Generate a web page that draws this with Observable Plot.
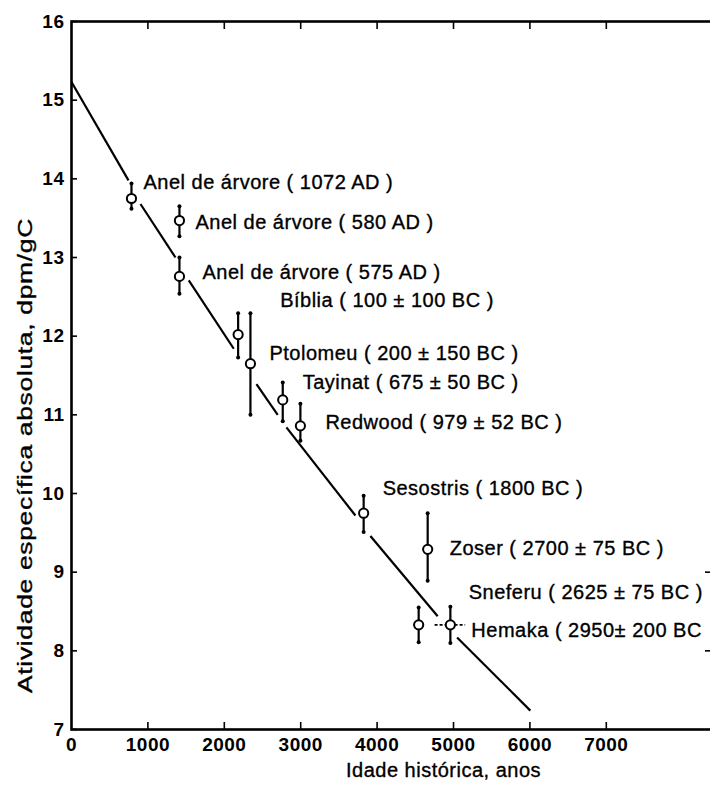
<!DOCTYPE html>
<html>
<head>
<meta charset="utf-8">
<script src="https://cdn.jsdelivr.net/npm/d3@7"></script>
<script src="https://cdn.jsdelivr.net/npm/@observablehq/plot@0.6"></script>
<style>
  html, body { margin: 0; padding: 0; background: #fff; overflow: hidden; }
  #chart svg { display: block; }
  #chart svg text { letter-spacing: 0.5px; }
</style>
</head>
<body>
<div id="chart"></div>
<script>
// Radiocarbon activity of dated samples against their historical age
const sampleLabels = [
  "Anel de árvore ( 1072 AD )", "Anel de árvore ( 580 AD )", "Anel de árvore ( 575 AD )",
  "Bíblia ( 100 ± 100 BC )", "Ptolomeu ( 200 ± 150 BC )", "Tayinat ( 675 ± 50 BC )",
  "Redwood ( 979 ± 52 BC )", "Sesostris ( 1800 BC )", "Zoser ( 2700 ± 75 BC )",
  "Sneferu ( 2625 ± 75 BC )", "Hemaka ( 2950± 200 BC"];
const ages = [785, 1413, 1413, 2181, 2342, 2765, 2996, 3824, 4662, 4544, 4959];
const activity = [13.75, 13.47, 12.76, 12.02, 11.65, 11.19, 10.86, 9.75, 9.29, 8.33, 8.33];
const activityLow = [13.62, 13.27, 12.54, 11.73, 11.00, 10.92, 10.67, 9.51, 8.89, 8.11, 8.10];
const activityHigh = [13.94, 13.65, 13.00, 12.29, 12.29, 11.41, 11.14, 9.97, 9.75, 8.55, 8.56];
const ageError = [0, 0, 0, 0, 0, 0, 0, 0, 0, 0, 200];

// decay curve, drawn as broken pieces that stop short of the samples
const curveAge = [[0, 746], [903, 1361], [1535, 2124], [2421, 2699], [2813, 3716], [3912, 4793], [5047, 6006]];
const curveActivity = [[15.23, 13.98], [13.68, 13.00], [12.71, 11.84], [11.39, 11.00], [10.84, 9.72], [9.46, 8.44], [8.17, 7.24]];

const xTicks = [0, 1000, 2000, 3000, 4000, 5000, 6000, 7000];
const yTicks = [7, 8, 9, 10, 11, 12, 13, 14, 15, 16];
const rightTicks = [8, 9];
const xLabel = "Idade histórica, anos";
const yLabel = "Atividade específica absoluta, dpm/gC";

// label offsets from each sample, in pixels
const labelNudge = [[12, -16], [16, 2], [23, -4], [42, -34], [19, -10], [20, -17],
  [25, -3], [19, -25], [22, -1], [50, -32], [21, 6]];

const samples = ages.map((a, i) => ({
  age: a, act: activity[i], lo: activityLow[i], hi: activityHigh[i], err: ageError[i],
  label: sampleLabels[i]
}));
const curve = curveAge.map((a, i) => ({x1: a[0], x2: a[1], y1: curveActivity[i][0], y2: curveActivity[i][1]}));

const W = 710, H = 785, mL = 71, mT = 21, mB = 56, mR = -2;
const innerW = W - mL - mR, innerH = H - mT - mB;
const font = "'Liberation Sans', Arial, Helvetica, sans-serif";
const textStyle = {fontSize: 20, fill: "black", stroke: "black", strokeWidth: 0.35, fontFamily: font};

const labelMarks = samples.map((s, i) => Plot.text([s], {
  x: "age", y: "act", text: "label", textAnchor: "start",
  dx: labelNudge[i][0], dy: labelNudge[i][1], ...textStyle
}));

const chart = Plot.plot({
  width: W, height: H,
  marginLeft: mL, marginTop: mT, marginBottom: mB, marginRight: mR,
  style: {fontFamily: font, background: "white", overflow: "hidden"},
  x: {domain: [0, 8390]},
  y: {domain: [7, 16]},
  marks: [
    // inward tick marks on all sides
    Plot.ruleX(xTicks.slice(1), {x: d => d, insetTop: innerH - 7, stroke: "black", strokeWidth: 1.6}),
    Plot.ruleX(xTicks.slice(1), {x: d => d, insetBottom: innerH - 8, stroke: "black", strokeWidth: 1.6}),
    Plot.ruleY(yTicks, {y: d => d, insetRight: innerW - 6, stroke: "black", strokeWidth: 1.6}),
    Plot.ruleY(rightTicks, {y: d => d, insetLeft: innerW - 7, stroke: "black", strokeWidth: 1.6}),
    Plot.frame({stroke: "black", strokeWidth: 2.6}),
    Plot.axisX({ticks: xTicks, tickSize: 0, tickPadding: 8, tickFormat: d => String(d), label: null,
      fontSize: 19, fontWeight: "bold", fill: "black"}),
    Plot.axisY({ticks: yTicks, tickSize: 0, tickPadding: 7, tickFormat: d => String(d), label: null,
      fontSize: 19, fontWeight: "bold", fill: "black"}),
    // fitted decay curve
    Plot.link(curve, {x1: "x1", y1: "y1", x2: "x2", y2: "y2", stroke: "black", strokeWidth: 2.2}),
    // activity error bars
    Plot.ruleX(samples, {x: "age", y1: "lo", y2: "hi", stroke: "black", strokeWidth: 2.2}),
    Plot.dot(samples, {x: "age", y: "lo", r: 2, fill: "black"}),
    Plot.dot(samples, {x: "age", y: "hi", r: 2, fill: "black"}),
    // age uncertainty where one is given
    Plot.ruleY(samples.filter(s => s.err > 0), {y: "act", x1: s => s.age - s.err, x2: s => s.age + s.err,
      stroke: "black", strokeWidth: 1.6, strokeDasharray: "3,2"}),
    Plot.dot(samples, {x: "age", y: "act", r: 4.6, fill: "white", stroke: "black", strokeWidth: 2}),
    ...labelMarks,
    Plot.text([xLabel], {frameAnchor: "bottom", dx: 443 - (mL + innerW / 2), dy: 47, textAnchor: "middle", ...textStyle}),
    Plot.text([yLabel], {frameAnchor: "left", rotate: -90, dx: -46, dy: 80, textAnchor: "middle", ...textStyle})
  ]
});
document.getElementById("chart").append(chart);

// the vertical title runs long beside the axis
for (const t of chart.querySelectorAll("text")) {
  if (t.textContent === yLabel) {
    t.setAttribute("textLength", 475);
    t.setAttribute("lengthAdjust", "spacingAndGlyphs");
  }
}
</script>
</body>
</html>
